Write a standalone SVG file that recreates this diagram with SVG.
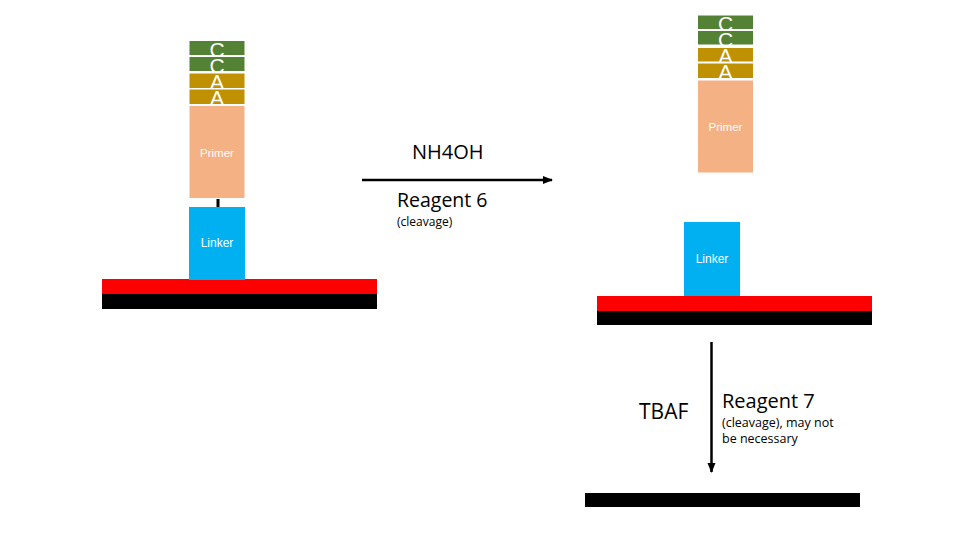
<svg xmlns="http://www.w3.org/2000/svg" width="960" height="540" viewBox="0 0 960 540">
<defs>
<style>
.g{fill:#548235;stroke:#ffffff;stroke-width:1}
.y{fill:#BF9000;stroke:#ffffff;stroke-width:1}
.p{fill:#F4B183;stroke:#ffffff;stroke-width:1}
.l{fill:#00B0F0}
.red{fill:#FF0000}
.blk{fill:#000000}
.bl{font-family:"Liberation Sans",Arial,sans-serif;fill:#ffffff;text-anchor:middle}
.big{font-size:21px}
.sm{font-size:11.5px}
.t{font-family:"Open Sans","Liberation Sans",sans-serif;fill:#000000}
</style>
<marker id="ah" markerWidth="10" markerHeight="10" refX="9" refY="5" orient="auto" markerUnits="userSpaceOnUse">
<path d="M0,1 L10,5 L0,9 Z" fill="#000"/>
</marker>
</defs>
<rect width="960" height="540" fill="#ffffff"/>

<g id="left-surface">
<rect class="red" x="102" y="279" width="275" height="15"/>
<rect class="blk" x="102" y="294" width="275" height="15"/>
</g>
<g id="left-linker">
<rect x="216.5" y="198" width="3" height="9" fill="#000"/>
<rect class="l" x="189" y="207" width="56" height="73"/>
<text class="bl" x="217" y="247" font-size="12">Linker</text>
</g>
<g id="left-primer">
<rect class="p" x="189" y="105.5" width="56" height="93"/>
<text class="bl sm" x="217" y="157">Primer</text>
</g>
<g id="left-cca">
<rect class="g" x="189" y="40.5" width="56" height="15"/>
<rect class="g" x="189" y="56.5" width="56" height="15"/>
<rect class="y" x="189" y="73" width="56" height="15.5"/>
<rect class="y" x="189" y="89" width="56" height="15.5"/>
<text class="bl big" x="217" y="57">C</text>
<text class="bl big" x="217" y="73">C</text>
<text class="bl big" x="217" y="89">A</text>
<text class="bl big" x="217" y="105">A</text>
</g>

<g id="right-surface">
<rect class="red" x="597" y="296" width="275" height="15"/>
<rect class="blk" x="597" y="311" width="275" height="14"/>
</g>
<g id="right-linker">
<rect class="l" x="684" y="222" width="56" height="74"/>
<text class="bl" x="712" y="263" font-size="12">Linker</text>
</g>
<g id="right-primer">
<rect class="p" x="697.5" y="80" width="56" height="93"/>
<text class="bl sm" x="725.5" y="131">Primer</text>
</g>
<g id="right-cca">
<rect class="g" x="697.5" y="15" width="56" height="14.5"/>
<rect class="g" x="697.5" y="30.5" width="56" height="14.5"/>
<rect class="y" x="697.5" y="47.5" width="56" height="14.5"/>
<rect class="y" x="697.5" y="63" width="56" height="15.5"/>
<text class="bl big" x="725.5" y="31">C</text>
<text class="bl big" x="725.5" y="47">C</text>
<text class="bl big" x="725.5" y="63">A</text>
<text class="bl big" x="725.5" y="79">A</text>
</g>

<g id="bottom-surface">
<rect class="blk" x="585" y="493" width="275" height="14"/>
</g>

<g id="connectors">
<line x1="362" y1="180" x2="552" y2="180" stroke="#000" stroke-width="2.5" marker-end="url(#ah)"/>
<line x1="711.5" y1="342" x2="711.5" y2="472" stroke="#000" stroke-width="2.5" marker-end="url(#ah)"/>
</g>

<g id="labels">
<text class="t" x="412" y="159" font-size="20">NH4OH</text>
<text class="t" x="397" y="207" font-size="19.5">Reagent 6</text>
<text class="t" x="397" y="226" font-size="12">(cleavage)</text>
<text class="t" x="639" y="419" font-size="21">TBAF</text>
<text class="t" x="722" y="408" font-size="20">Reagent 7</text>
<text class="t" x="722" y="427" font-size="12.5">(cleavage), may not</text>
<text class="t" x="722" y="443" font-size="12.5">be necessary</text>
</g>
</svg>
